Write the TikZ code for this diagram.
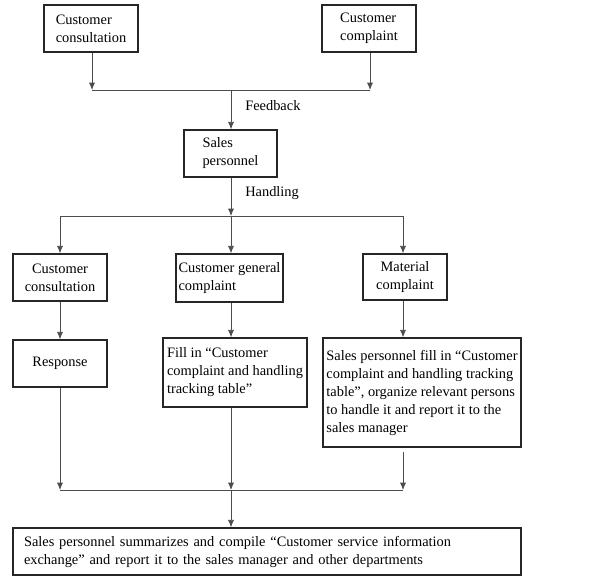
\documentclass[tikz,border=0pt]{standalone}
\usepackage{fontspec}
\setmainfont{Liberation Serif}
\usetikzlibrary{arrows.meta}
\begin{document}
\begin{tikzpicture}[x=0.75pt,y=-0.75pt,
  box/.style={draw=black!85,line width=1.1pt,inner sep=0pt,
    font=\fontsize{10.8pt}{13.5pt}\selectfont,text=black},
  conn/.style={draw=black!70,line width=0.6pt},
  arr/.style={conn,-{Latex[length=5.5pt,width=4.6pt]}},
  lab/.style={font=\fontsize{10.8pt}{13.5pt}\selectfont,text=black,anchor=west,inner sep=0pt}]
\useasboundingbox (0,0) rectangle (613,577);
% top row
\node[box,align=left,minimum width={94*0.75pt},minimum height={47*0.75pt}] (tl) at (91,28.5) {Customer\\consultation};
\node[box,align=left,minimum width={94*0.75pt},minimum height={47*0.75pt}] (tr) at (369,28.5) {Customer\\complaint};
\node[box,align=left,minimum width={93*0.75pt},minimum height={47*0.75pt}] (sales) at (230.5,153.5) {Sales\\personnel};
% second row
\node[box,align=center,minimum width={94*0.75pt},minimum height={47*0.75pt}] (c1) at (60,277.5) {Customer\\consultation};
\node[box,align=left,minimum width={107*0.75pt},minimum height={48*0.75pt}] (c2) at (229.5,278) {Customer general\\complaint};
\node[box,align=center,minimum width={84*0.75pt},minimum height={46*0.75pt}] (c3) at (405,277) {Material\\complaint};
% third row
\node[box,align=center,minimum width={94*0.75pt},minimum height={47*0.75pt}] (r1) at (60,363.5) {Response};
\node[box,align=left,inner xsep={2*0.75pt},minimum width={144*0.75pt},minimum height={69*0.75pt}] (r2) at (235,372.5) {Fill in “Customer\\complaint and handling\\tracking table”};
\node[box,align=left,inner xsep={1*0.75pt},minimum width={198*0.75pt},minimum height={109*0.75pt}] (r3) at (422,392.5) {Sales personnel fill in “Customer\\complaint and handling tracking\\table”, organize relevant persons\\to handle it and report it to the\\sales manager};
% bottom
\node[box,align=left,text width={486*0.75pt},inner xsep={11*0.75pt},minimum height={47*0.75pt}] (b) at (267,551.5) {Sales personnel summarizes and compile “Customer service information\\exchange” and report it to the sales manager and other departments};
% junction coordinates
\coordinate (j1l) at (92,90);
\coordinate (j1r) at (370,90);
\coordinate (j1c) at (231,90);
\coordinate (j2c) at (231,216);
\coordinate (j2l) at (60,216);
\coordinate (j2r) at (403,216);
\coordinate (j3l) at (60,490);
\coordinate (j3c) at (231,490);
\coordinate (j3r) at (403,490);
% connectors
\draw[arr] (tl.south -| j1l) -- (j1l);
\draw[arr] (tr.south -| j1r) -- (j1r);
\draw[conn] (j1l) -- (j1r);
\draw[arr] (j1c) -- (j1c |- sales.north);
\draw[arr] (j1c |- sales.south) -- (j2c);
\draw[conn] (j2l) -- (j2r);
\draw[arr] (j2l) -- (j2l |- c1.north);
\draw[arr] (j2c) -- (j2c |- c2.north);
\draw[arr] (j2r) -- (j2r |- c3.north);
\draw[arr] (j2l |- c1.south) -- (j2l |- r1.north);
\draw[arr] (j2c |- c2.south) -- (j2c |- r2.north);
\draw[arr] (j2r |- c3.south) -- (j2r |- r3.north);
\draw[arr] (j3l |- r1.south) -- (j3l);
\draw[arr] (j3c |- r2.south) -- (j3c);
\draw[arr,shorten <=3.5pt] (j3r |- r3.south) -- (j3r);
\draw[conn] (j3l) -- (j3r);
\draw[arr] (j3c) -- (j3c |- b.north);
% labels
\node[lab] (fb) at (245,106) {Feedback};
\node[lab] (hd) at (245,193) {Handling};
\end{tikzpicture}
\end{document}
